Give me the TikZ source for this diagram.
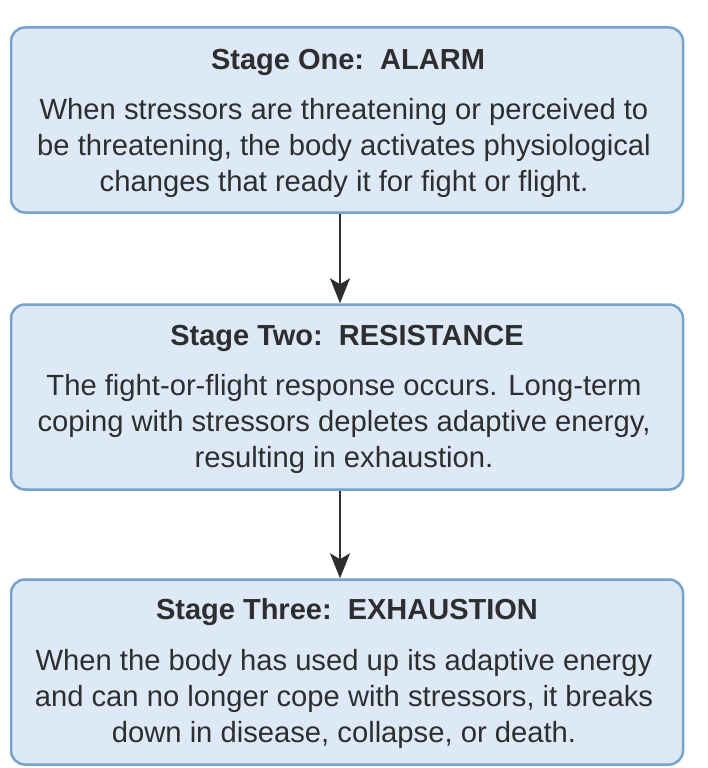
\documentclass[tikz,border=0pt]{standalone}
\usepackage{fontspec}
\setmainfont{Liberation Sans}
\usetikzlibrary{arrows.meta}
\definecolor{boxfill}{HTML}{DDE9F6}
\definecolor{boxline}{HTML}{74A2CB}
\definecolor{txt}{HTML}{2E2E30}
\tikzset{
  stagebox/.style={draw=boxline, fill=boxfill, line width=2.5pt, rounded corners=14pt,
    minimum width=672pt, minimum height=185pt, inner sep=0pt},
  titletext/.style={text=txt, font=\fontsize{29}{33}\selectfont\bfseries, inner sep=0pt},
  bodytext/.style={text=txt, font=\fontsize{29.2}{36}\selectfont, align=center, inner sep=0pt},
  flow/.style={draw=txt, line width=2pt, -{Stealth[length=25pt,width=20pt,inset=6pt]}}
}
\begin{document}
\begin{tikzpicture}[x=1pt,y=-1pt]
\useasboundingbox (0,0) rectangle (707,768);
\node[stagebox] (b1) at (347,120) {};
\node[stagebox] (b2) at (347,397) {};
\node[stagebox] (b3) at (347,672) {};
\node[titletext] (t1) at (348,62) {Stage One:\ \ ALARM};
\node[bodytext] (d1) at (344,148) {When stressors are threatening or perceived to\\be threatening, the body activates physiological\\changes that ready it for fight or flight.};
\node[titletext] (t2) at (347,338) {Stage Two:\ \ RESISTANCE};
\node[bodytext] (d2) at (344,424) {The fight-or-flight response occurs. Long-term\\coping with stressors depletes adaptive energy,\\resulting in exhaustion.};
\node[titletext] (t3) at (347,612) {Stage Three:\ \ EXHAUSTION};
\node[bodytext] (d3) at (344,699) {When the body has used up its adaptive energy\\and can no longer cope with stressors, it breaks\\down in disease, collapse, or death.};
\draw[flow] (b1.south -| 340,0) -- (b2.north -| 340,0);
\draw[flow] (b2.south -| 340,0) -- (b3.north -| 340,0);
\end{tikzpicture}
\end{document}
